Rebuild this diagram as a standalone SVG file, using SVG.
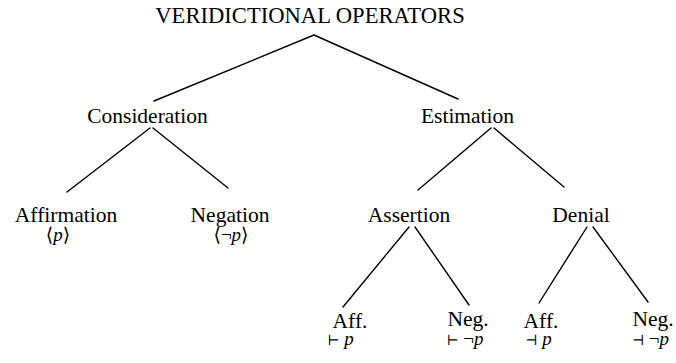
<svg xmlns="http://www.w3.org/2000/svg" width="676" height="363" viewBox="0 0 676 363">
<style>
text{font-family:"Liberation Serif","Times New Roman","DejaVu Serif",serif;fill:#000;text-anchor:middle;font-size:21.5px}
.t{font-size:22.6px}
.m{font-size:19px}
.i{font-style:italic}
.sym{font-family:"DejaVu Serif","DejaVu Sans",serif;font-size:14px}
#edges line{stroke:#000;stroke-width:1.4;stroke-linecap:round}
</style>
<rect width="676" height="363" fill="#fff"/>
<g id="edges">
<line x1="314" y1="35" x2="154" y2="101"/>
<line x1="314" y1="35" x2="458" y2="99"/>
<line x1="150" y1="128" x2="67" y2="192"/>
<line x1="153" y1="128" x2="228" y2="188"/>
<line x1="491" y1="128" x2="418" y2="190"/>
<line x1="494" y1="128" x2="564" y2="187"/>
<line x1="409" y1="227" x2="343" y2="307"/>
<line x1="415" y1="227" x2="469" y2="305"/>
<line x1="587" y1="227" x2="539" y2="303"/>
<line x1="593" y1="227" x2="648" y2="302"/>
</g>
<g id="root"><text class="t" x="310" y="23">VERIDICTIONAL OPERATORS</text></g>
<g id="consideration"><text x="147.5" y="123">Consideration</text></g>
<g id="estimation"><text x="467.5" y="123">Estimation</text></g>
<g id="affirmation"><text x="66" y="222">Affirmation</text><text class="m" x="58" y="241">⟨<tspan class="i">p</tspan>⟩</text></g>
<g id="negation"><text x="230" y="222">Negation</text><text class="m" x="231" y="241">⟨¬<tspan class="i">p</tspan>⟩</text></g>
<g id="assertion"><text x="409" y="222">Assertion</text></g>
<g id="denial"><text x="581" y="222">Denial</text></g>
<g id="assert-aff"><text x="350" y="328">Aff.</text><text class="m" x="340.5" y="345"><tspan class="sym">⊢</tspan> <tspan class="i">p</tspan></text></g>
<g id="assert-neg"><text x="468" y="326">Neg.</text><text class="m" x="465" y="345"><tspan class="sym">⊢</tspan> ¬<tspan class="i">p</tspan></text></g>
<g id="denial-aff"><text x="541" y="328">Aff.</text><text class="m" x="538.5" y="345"><tspan class="sym">⊣</tspan> <tspan class="i">p</tspan></text></g>
<g id="denial-neg"><text x="653" y="326">Neg.</text><text class="m" x="650.5" y="345"><tspan class="sym">⊣</tspan> ¬<tspan class="i">p</tspan></text></g>
</svg>
